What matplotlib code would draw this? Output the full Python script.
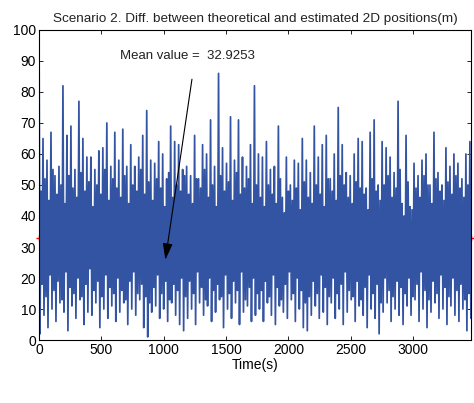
import numpy as np
import matplotlib.pyplot as plt

plt.rcParams['font.family'] = ['Liberation Sans', 'DejaVu Sans']

# sample times (s); in each 32 s slot: highest peak, deepest trough,
# next peak and next trough, all read off the chart
step = 32
time_s = np.arange(0, 3457, step)
peaks = [100, 65, 58, 67, 53, 56, 82, 66, 69, 55, 77, 65, 59, 59, 55, 61, 62, 70, 56,
         67, 58, 68, 56, 63, 56, 59, 66, 74, 58, 57, 64, 60, 52, 69, 64, 63, 55,
         56, 53, 66, 52, 63, 60, 71, 56, 86, 62, 57, 72, 58, 71, 59, 56, 63, 82,
         60, 59, 64, 55, 56, 69, 46, 59, 50, 58, 57, 65, 58, 54, 69, 59, 63, 66,
         52, 60, 75, 63, 54, 53, 60, 65, 64, 49, 67, 71, 50, 64, 62, 59, 54, 77,
         44, 66, 43, 57, 53, 58, 60, 50, 67, 54, 50, 62, 56, 60, 57, 52, 60, 64]
troughs = [2, 8, 4, 10, 6, 12, 9, 3, 11, 7, 13, 5, 9, 8, 12, 4, 10, 7, 11,
           6, 9, 12, 5, 10, 8, 13, 4, 1, 9, 11, 7, 10, 6, 12, 8, 5, 3,
           7, 10, 5, 12, 8, 11, 6, 9, 13, 4, 10, 7, 12, 5, 9, 11, 6, 8,
           10, 6, 12, 8, 5, 11, 9, 7, 13, 6, 10, 4, 3, 8, 11, 7, 9, 5,
           12, 7, 10, 5, 9, 13, 6, 11, 8, 4, 10, 7, 2, 9, 12, 6, 10, 8,
           5, 11, 8, 13, 6, 10, 4, 9, 12, 7, 10, 5, 11, 8, 6, 10, 3, 7]
peaks2 = [48, 52, 45, 55, 47, 50, 44, 53, 49, 46, 54, 48, 51, 43, 50, 47, 55, 45, 52,
          49, 46, 53, 44, 50, 48, 55, 47, 51, 45, 52, 49, 43, 54, 46, 50, 48, 53,
          47, 44, 52, 49, 55, 46, 50, 43, 53, 48, 51, 45, 54, 47, 49, 52, 44, 50,
          46, 43, 50, 47, 44, 52, 41, 48, 45, 49, 42, 51, 46, 44, 50, 47, 43, 52,
          48, 45, 53, 50, 46, 44, 51, 49, 47, 42, 52, 48, 45, 50, 53, 46, 49, 55,
          40, 51, 42, 49, 46, 53, 50, 44, 52, 48, 45, 51, 47, 53, 49, 46, 50, 52]
troughs2 = [18, 14, 21, 16, 19, 13, 22, 17, 15, 20, 14, 18, 23, 16, 19, 14, 21, 17, 15,
            20, 16, 13, 19, 22, 15, 18, 14, 12, 17, 21, 15, 19, 13, 18, 16, 20, 14,
            19, 15, 22, 17, 13, 20, 16, 18, 14, 21, 15, 19, 16, 22, 13, 17, 20, 15,
            16, 19, 14, 21, 17, 13, 18, 22, 15, 20, 16, 12, 14, 19, 15, 21, 17, 14,
            20, 15, 18, 22, 16, 14, 19, 13, 17, 21, 15, 18, 12, 20, 16, 14, 19, 17,
            15, 20, 14, 18, 22, 16, 13, 19, 15, 21, 17, 14, 20, 16, 18, 13, 15, 19]
mean_value = 32.9253
t_end = 3465

# interleave the four series along the time axis
series = [peaks, troughs, peaks2, troughs2]
t = np.empty(4 * len(time_s))
y = np.empty(4 * len(time_s))
for k, s in enumerate(series):
    t[k::4] = time_s + k * step / 4
    y[k::4] = s

fig = plt.figure(figsize=(4.74, 4.03), dpi=100)
ax = fig.add_axes([0.0823, 0.1563, 0.9114, 0.7693])

ax.plot([0, t_end], [mean_value, mean_value], color='red', marker='+', markersize=5,
        ls='none', clip_on=False, zorder=1)
ax.plot(t, y, color='#3353a3', lw=1.25, zorder=2)

ax.annotate('', xy=(1010, 25), xytext=(1230, 85),
            arrowprops=dict(arrowstyle='-|>,head_length=1.0,head_width=0.3', color='black', lw=0.8))
ax.text(1190, 91.5, 'Mean value =  %.4f' % mean_value, ha='center', va='center',
        fontsize=9.5, color='#222222')

ax.set_xlim(0, t_end)
ax.set_ylim(0, 100)
ax.set_xticks(np.arange(0, 3001, 500))
ax.set_yticks(np.arange(0, 101, 10))
ax.tick_params(direction='in', top=True, right=True, labelsize=10, length=3, width=0.6, pad=2)
for sp in ax.spines.values():
    sp.set_linewidth(0.8)
ax.set_xlabel('Time(s)', fontsize=10, labelpad=1)
ax.set_title('Scenario 2. Diff. between theoretical and estimated 2D positions(m)',
             fontsize=9.7, pad=6, color='#222222')

fig.savefig('out.png', dpi=100)
